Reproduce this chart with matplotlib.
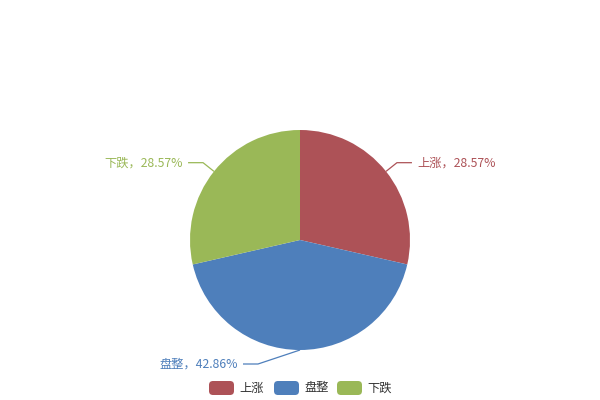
import matplotlib
matplotlib.use('Agg')
import matplotlib.pyplot as plt
import numpy as np
from matplotlib.patches import FancyBboxPatch

categories = ['上涨', '盘整', '下跌']
values = [28.57, 42.86, 28.57]
colors = ['#AD5257', '#4E7FBB', '#9AB857']

plt.rcParams['font.family'] = ['Noto Sans CJK SC', 'DejaVu Sans']

fig = plt.figure(figsize=(6, 4), dpi=100)
ax = fig.add_axes([0, 0, 1, 1])
cx, cy, r = 300, 240, 110
wedges, _ = ax.pie(values, colors=colors, center=(cx, cy), radius=r,
                   startangle=270, counterclock=True,
                   wedgeprops=dict(linewidth=0))
ax.set_xlim(0, 600)
ax.set_ylim(400, 0)
ax.axis('off')

fs = 8.8
elbow_shift = [0, -42, 0]
for w, cat, v, col, sh in zip(wedges, categories, values, colors, elbow_shift):
    mid = np.deg2rad((w.theta1 + w.theta2) / 2)
    d = np.array([np.cos(mid), np.sin(mid)])
    edge = np.array([cx, cy]) + r * d
    elbow = np.array([cx, cy]) + (r + 14) * d + np.array([sh, 0])
    side = 1 if elbow[0] > cx else -1
    end = elbow + np.array([side * 15, 0])
    ax.plot([edge[0], elbow[0], end[0]], [edge[1], elbow[1], end[1]],
            color=col, lw=0.9, solid_capstyle='butt')
    ax.text(end[0] + side * 5, end[1], f'{cat}，{v:.2f}%', color=col,
            fontsize=fs, ha='left' if side > 0 else 'right', va='center')

leg_x = [209, 274, 337]
for x, cat, col in zip(leg_x, categories, colors):
    ax.add_patch(FancyBboxPatch((x, 381), 25, 14,
                                boxstyle='round,pad=0,rounding_size=4',
                                facecolor=col, edgecolor='none'))
    ax.text(x + 30, 388, cat, color='#333333', fontsize=fs,
            ha='left', va='center')

fig.savefig('out.png', dpi=100)
